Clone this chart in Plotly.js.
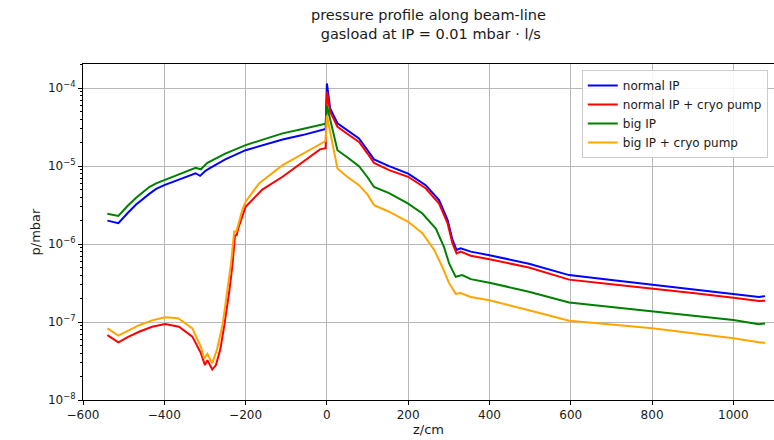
<!DOCTYPE html>
<html>
<head>
<meta charset="utf-8">
<script src="https://cdn.plot.ly/plotly-3.0.1.min.js"></script>
<style>html,body{margin:0;padding:0;background:#fff;}#chart{width:774px;height:440px;}</style>
</head>
<body>
<div id="chart"></div>
<script>
// ---- data (z in cm, p in mbar) ----
const seriesNames = ["normal IP", "normal IP + cryo pump", "big IP", "big IP + cryo pump"];

const zNormal = [-540,-513,-490,-470,-437,-420,-400,-360,-323,-312,-300,-290,-250,-200,-150,-109,-60,-15,-3,0,8,26,50,79,100,116,153,200,243,276,297,309,319,329,354,400,497,596,700,800,900,1000,1063,1078];
const pNormal = [2.0e-6,1.85e-6,2.5e-6,3.2e-6,4.4e-6,5.1e-6,5.7e-6,6.8e-6,8.1e-6,7.5e-6,8.6e-6,9.3e-6,1.22e-5,1.6e-5,1.9e-5,2.2e-5,2.5e-5,2.84e-5,3.0e-5,1.15e-4,5.5e-5,3.55e-5,2.9e-5,2.27e-5,1.6e-5,1.22e-5,1.0e-5,8.0e-6,5.7e-6,3.66e-6,2.04e-6,1.13e-6,8.4e-7,8.8e-7,8.0e-7,7.2e-7,5.6e-7,4.0e-7,3.45e-7,3.0e-7,2.6e-7,2.3e-7,2.1e-7,2.15e-7];

const zNormalCryo = [-540,-513,-490,-462,-430,-398,-364,-331,-310,-300,-294,-282,-273,-262,-253,-240,-232,-226,-222,-218,-200,-159,-109,-52,-17,-3,0,8,26,50,79,100,116,153,200,243,276,297,309,319,329,354,400,497,596,700,800,900,1000,1063,1078];
const pNormalCryo = [6.8e-8,5.5e-8,6.4e-8,7.5e-8,8.7e-8,9.4e-8,8.7e-8,6.5e-8,4.0e-8,2.8e-8,3.25e-8,2.46e-8,2.8e-8,4.5e-8,8.7e-8,2.5e-7,5.6e-7,1.3e-6,1.3e-6,1.6e-6,3.0e-6,5.0e-6,7.3e-6,1.2e-5,1.64e-5,1.7e-5,9.0e-5,5.0e-5,3.2e-5,2.6e-5,2.04e-5,1.45e-5,1.1e-5,8.9e-6,7.3e-6,5.2e-6,3.3e-6,1.84e-6,1.02e-6,7.6e-7,8.0e-7,7.1e-7,6.4e-7,5.0e-7,3.5e-7,3.05e-7,2.65e-7,2.35e-7,2.05e-7,1.86e-7,1.88e-7];

const zBig = [-540,-513,-490,-470,-437,-420,-400,-360,-323,-310,-294,-250,-200,-150,-109,-60,-13,-3,0,26,50,79,100,116,153,200,235,268,288,301,309,317,333,354,400,497,596,700,800,900,1000,1063,1078];
const pBig = [2.45e-6,2.3e-6,3.1e-6,3.9e-6,5.4e-6,6.0e-6,6.6e-6,8.0e-6,9.5e-6,9.1e-6,1.1e-5,1.45e-5,1.86e-5,2.25e-5,2.63e-5,3.0e-5,3.42e-5,3.5e-5,6.0e-5,1.6e-5,1.3e-5,1.0e-5,7.2e-6,5.4e-6,4.5e-6,3.3e-6,2.47e-6,1.58e-6,9.2e-7,5.6e-7,4.6e-7,3.8e-7,4.0e-7,3.55e-7,3.2e-7,2.45e-7,1.78e-7,1.55e-7,1.36e-7,1.2e-7,1.06e-7,9.4e-8,9.6e-8];

const zBigCryo = [-540,-513,-462,-430,-398,-366,-331,-310,-302,-294,-282,-270,-256,-245,-236,-228,-223,-219,-208,-200,-167,-109,-52,-15,-3,0,26,50,79,100,116,153,200,235,264,284,300,317,329,354,400,497,596,700,800,900,1000,1063,1078];
const pBigCryo = [8.3e-8,6.7e-8,9.1e-8,1.05e-7,1.15e-7,1.12e-7,8.3e-8,4.8e-8,3.4e-8,3.9e-8,2.95e-8,4.5e-8,9.6e-8,2.5e-7,5.6e-7,1.45e-6,1.45e-6,1.7e-6,2.75e-6,3.5e-6,6.0e-6,1.03e-5,1.52e-5,1.95e-5,2.1e-5,4.5e-5,9.3e-6,7.3e-6,5.7e-6,4.3e-6,3.16e-6,2.6e-6,1.93e-6,1.38e-6,8.4e-7,5.1e-7,3.2e-7,2.3e-7,2.35e-7,2.1e-7,1.9e-7,1.42e-7,1.04e-7,9.3e-8,8.3e-8,7.2e-8,6.2e-8,5.5e-8,5.4e-8];

const xTickVals = [-600,-400,-200,0,200,400,600,800,1000];
const xTickText = ["\u2212600","\u2212400","\u2212200","0","200","400","600","800","1000"];
const yTickVals = [1e-8,1e-7,1e-6,1e-5,1e-4];
const yTickText = ["10<sup>\u22128</sup>","10<sup>\u22127</sup>","10<sup>\u22126</sup>","10<sup>\u22125</sup>","10<sup>\u22124</sup>"];
const yMinorMantissas = [2,3,4,5,6,7,8,9];

const colors = ["#0000ff","#ff0000","#008000","#ffa500"];
const zs = [zNormal, zNormalCryo, zBig, zBigCryo];
const ps = [pNormal, pNormalCryo, pBig, pBigCryo];

// minor tick positions (decade x mantissa)
const yMinorVals = [];
yTickVals.slice(0, -1).forEach(d => yMinorMantissas.forEach(m => yMinorVals.push(d * m)));
yMinorVals.push(2e-4);

const FONT = "DejaVu Sans, sans-serif";

const traces = seriesNames.map((n, i) => ({
  x: zs[i], y: ps[i], name: n, type: "scatter", mode: "lines",
  line: {color: colors[i], width: 2}
}));
// invisible helper trace to activate the minor-tick axis
traces.push({x: [zNormal[0]], y: [pNormal[0]], yaxis: "y2", mode: "markers",
  marker: {opacity: 0}, showlegend: false, hoverinfo: "skip"});

const layout = {
  width: 774, height: 440,
  margin: {l: 83, r: 0, t: 64, b: 40},
  paper_bgcolor: "#ffffff", plot_bgcolor: "#ffffff",
  font: {family: FONT, size: 12, color: "#1a1a1a"},
  title: {
    text: "pressure profile along beam-line<br> gasload at IP = 0.01 mbar \u00b7 l/s",
    font: {family: FONT, size: 14.5, color: "#1a1a1a"},
    xref: "paper", x: 0.5, xanchor: "center",
    yref: "container", y: 1 - 20/440, yanchor: "top"
  },
  showlegend: true,
  legend: {
    x: 0.991, xanchor: "right", y: 0.982, yanchor: "top",
    bgcolor: "rgba(255,255,255,0.85)", bordercolor: "#cccccc", borderwidth: 1,
    font: {family: FONT, size: 12, color: "#1a1a1a"},
    itemwidth: 30, tracegroupgap: 0
  },
  xaxis: {
    range: [-600, 1100], tickmode: "array", tickvals: xTickVals, ticktext: xTickText,
    showgrid: true, gridcolor: "#b8b8b8", gridwidth: 1,
    showline: true, linecolor: "#000", linewidth: 1, mirror: true,
    ticks: "outside", ticklen: 4, tickcolor: "#000", tickwidth: 1,
    zeroline: false,
    tickfont: {family: FONT, size: 12, color: "#1a1a1a"},
    title: {text: "z/cm", font: {family: FONT, size: 13, color: "#1a1a1a"}, standoff: 3},
    automargin: false
  },
  yaxis: {
    type: "log", range: [-8, -3.69], tickmode: "array", tickvals: yTickVals, ticktext: yTickText,
    showgrid: true, gridcolor: "#b8b8b8", gridwidth: 1,
    showline: true, linecolor: "#000", linewidth: 1, mirror: false,
    ticks: "outside", ticklen: 4, tickcolor: "#000", tickwidth: 1,
    zeroline: false,
    tickfont: {family: FONT, size: 12, color: "#1a1a1a"},
    title: {text: "p/mbar", font: {family: FONT, size: 13, color: "#1a1a1a"}, standoff: 4},
    automargin: false
  },
  yaxis2: {
    type: "log", range: [-8, -3.69], overlaying: "y", side: "left", anchor: "x",
    tickmode: "array", tickvals: yMinorVals, showticklabels: false,
    ticks: "outside", ticklen: 2, tickcolor: "#000", tickwidth: 1,
    showgrid: false, zeroline: false, showline: false, automargin: false
  }
};

Plotly.newPlot("chart", traces, layout, {displayModeBar: false, staticPlot: true});
</script>
</body>
</html>
